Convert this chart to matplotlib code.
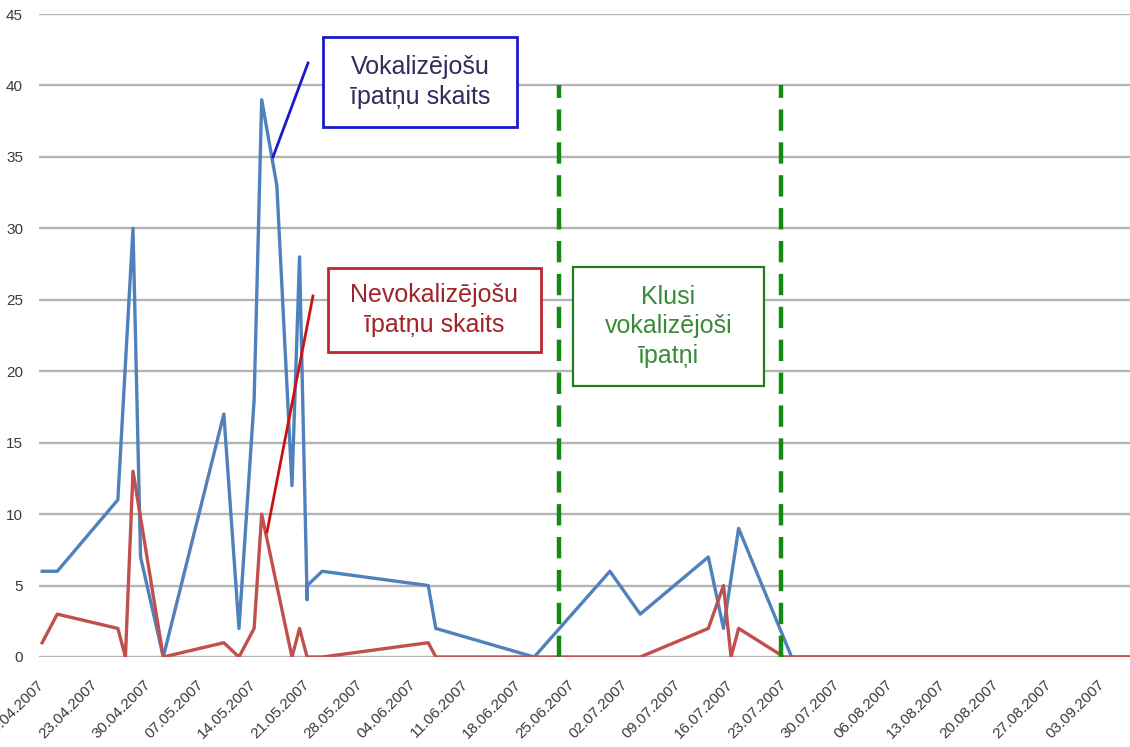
import matplotlib
matplotlib.use('Agg')
import matplotlib.pyplot as plt
import matplotlib.dates as mdates
from matplotlib.patches import Rectangle
from matplotlib.lines import Line2D
import pandas as pd

# Vokalizējošu īpatņu skaits (blue series)
voc_dates = ['16.04.2007', '18.04.2007', '26.04.2007', '28.04.2007', '29.04.2007',
             '02.05.2007', '10.05.2007', '12.05.2007', '14.05.2007', '15.05.2007',
             '17.05.2007', '19.05.2007', '20.05.2007', '21.05.2007', '21.05.2007',
             '23.05.2007', '06.06.2007', '07.06.2007', '20.06.2007', '30.06.2007',
             '04.07.2007', '13.07.2007', '15.07.2007', '17.07.2007', '24.07.2007',
             '10.09.2007']
voc_values = [6, 6, 11, 30, 7, 0, 17, 2, 18, 39, 33, 12, 28, 4, 5, 6, 5, 2, 0, 6,
              3, 7, 2, 9, 0, 0]

# Nevokalizējošu īpatņu skaits (red series)
nonvoc_dates = ['16.04.2007', '18.04.2007', '26.04.2007', '27.04.2007', '28.04.2007',
                '02.05.2007', '10.05.2007', '12.05.2007', '14.05.2007', '15.05.2007',
                '19.05.2007', '20.05.2007', '21.05.2007', '23.05.2007', '06.06.2007',
                '07.06.2007', '04.07.2007', '13.07.2007', '15.07.2007', '16.07.2007',
                '17.07.2007', '23.07.2007', '10.09.2007']
nonvoc_values = [1, 3, 2, 0, 13, 0, 1, 0, 2, 10, 0, 2, 0, 0, 1, 0, 0, 2, 5, 0,
                 2, 0, 0]

# "Klusi vokalizējoši īpatņi" period borders
quiet_start = '23.06.2007 08:00'
quiet_end = '22.07.2007 14:00'

tick_dates = pd.date_range('2007-04-16', '2007-09-03', freq='7D')
y_ticks = list(range(0, 50, 5))

W, H = 1130, 747
fig = plt.figure(figsize=(W / 100, H / 100), dpi=100)
ax = fig.add_axes([39 / W, (H - 657) / H, (W - 39) / W, (657 - 14) / H])


def d(s):
    return pd.to_datetime(s, dayfirst=True)


voc_x = [d(s) for s in voc_dates]
nonvoc_x = [d(s) for s in nonvoc_dates]

ax.plot(voc_x, voc_values, color='#4f81bd', lw=2.4, zorder=3)
ax.plot(nonvoc_x, nonvoc_values, color='#c0504d', lw=2.4, zorder=3)

for s in (quiet_start, quiet_end):
    ax.plot([d(s), d(s)], [0, 40.0], color='#138a13', lw=3.2,
            dashes=(4.8, 2.6), zorder=4)

start = d('16.04.2007')
ax.set_xlim(start - pd.Timedelta(hours=10), start + pd.Timedelta(days=143.7))
ax.set_ylim(0, 45)

ax.set_xticks(tick_dates)
ax.xaxis.set_major_formatter(mdates.DateFormatter('%d.%m.%Y'))
ax.set_yticks(y_ticks)

ax.yaxis.grid(True, color='#b4b4b4', lw=1.7)
ax.set_axisbelow(True)
for sp in ax.spines.values():
    sp.set_visible(False)

ax.tick_params(axis='both', length=0, labelcolor='#3a3a3a', labelsize=11)
ax.tick_params(axis='y', pad=11.5)
ax.tick_params(axis='x', pad=18)
for lab in ax.get_xticklabels() + ax.get_yticklabels():
    lab.set_fontfamily('Liberation Sans')
for lab in ax.get_xticklabels():
    lab.set_rotation(45)
    lab.set_ha('right')
    lab.set_va('center')
    lab.set_rotation_mode('anchor')


# annotation boxes, placed in pixel coordinates of the figure
def box(x0, y0, x1, y1, edge, text, tcolor, lw=2):
    fig.add_artist(Rectangle((x0 / W, 1 - y1 / H), (x1 - x0) / W, (y1 - y0) / H,
                             transform=fig.transFigure, facecolor='white',
                             edgecolor=edge, lw=lw, zorder=5))
    fig.text((x0 + x1) / 2 / W, 1 - (y0 + y1) / 2 / H, text, color=tcolor,
             ha='center', va='center', fontsize=18, family='Liberation Sans',
             linespacing=1.3, zorder=6)


def leader(x0, y0, x1, y1, color):
    fig.add_artist(Line2D([x0 / W, x1 / W], [1 - y0 / H, 1 - y1 / H],
                          transform=fig.transFigure, color=color, lw=2, zorder=5))


box(323, 37, 517, 127, '#1a1acc', 'Vokalizējošu\nīpatņu skaits', '#2e2e5c')
leader(308, 63, 273, 157, '#1a1acc')

box(328, 268, 541, 352, '#c0272d', 'Nevokalizējošu\nīpatņu skaits', '#a02428')
leader(313, 296, 267, 532, '#cc1111')

box(573, 267, 764, 386, '#227a22', 'Klusi\nvokalizējoši\nīpatņi', '#3a8a3a', lw=1.6)

fig.savefig('out.png', dpi=100)
